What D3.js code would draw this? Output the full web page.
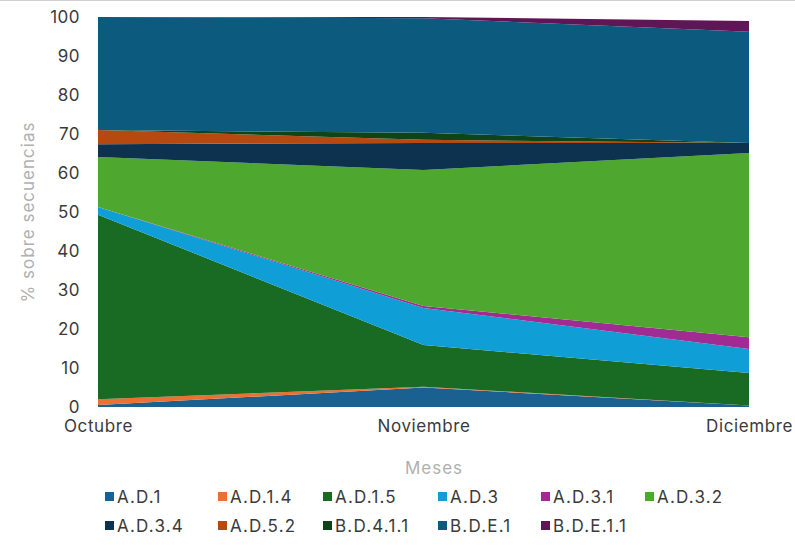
<!DOCTYPE html>
<html><head><meta charset="utf-8">
<script src="https://cdn.jsdelivr.net/npm/d3@7"></script>
<style>body{margin:0;background:#fff;} text{font-family:Inter,"Open Sans",sans-serif;}</style>
</head><body><svg id="c" width="795" height="545"></svg>
<script>
const months = ["Octubre","Noviembre","Diciembre"];
const seriesNames = ["A.D.1","A.D.1.4","A.D.1.5","A.D.3","A.D.3.1","A.D.3.2","A.D.3.4","A.D.5.2","B.D.4.1.1","B.D.E.1","B.D.E.1.1"];
const AD1     = [0.5, 5.0, 0.4];
const AD14    = [1.5, 0.2, 0.0];
const AD15    = [47.3, 10.7, 8.3];
const AD3     = [2.0, 9.5, 6.2];
const AD31    = [0.0, 0.5, 3.0];
const AD32    = [12.8, 34.9, 47.2];
const AD34    = [3.3, 6.9, 2.6];
const AD52    = [3.6, 0.8, 0.0];
const BD411   = [0.0, 1.8, 0.0];
const BDE1    = [29.0, 29.4, 28.5];
const BDE11   = [0.0, 0.3, 2.8];
const colors = ["#1a6090","#e97132","#196b24","#0f9ed5","#a02b93","#4ea72e","#0d3250","#b5490f","#0f4418","#0c5b7e","#5e1656"];
const yTicks = [0,10,20,30,40,50,60,70,80,90,100];

const valueArrays = [AD1,AD14,AD15,AD3,AD31,AD32,AD34,AD52,BD411,BDE1,BDE11];
const rows = months.map((m,i)=>{const o={month:m}; seriesNames.forEach((s,j)=>o[s]=valueArrays[j][i]); return o;});

const svg = d3.select("#c");
const L=98, R=749, T=17, B=407;
const x = d3.scalePoint().domain(months).range([L,R]);
const y = d3.scaleLinear().domain([0,100]).range([B,T]);

svg.append("line").attr("x1",0).attr("x2",795).attr("y1",0.5).attr("y2",0.5).attr("stroke","#d0d0d0");

const stack = d3.stack().keys(seriesNames)(rows);
const area = d3.area().x(d=>x(d.data.month)).y0(d=>y(d[0])).y1(d=>y(d[1]));
svg.append("g").selectAll("path").data(stack).join("path")
  .attr("d",area).attr("fill",(d,i)=>colors[i]);

const tf = "Inter,'Open Sans',sans-serif";
// y axis labels
const ya = svg.append("g").attr("transform",`translate(${L},0)`)
  .call(d3.axisLeft(y).tickValues(yTicks).tickSize(0).tickPadding(18));
ya.select(".domain").remove();
ya.selectAll("text").attr("font-size",17).attr("fill","#3a3a3a").attr("font-family",tf).attr("letter-spacing",0.5);

// x axis labels
const xa = svg.append("g").attr("transform",`translate(0,${B})`)
  .call(d3.axisBottom(x).tickSize(0).tickPadding(13));
xa.select(".domain").remove();
xa.selectAll("text").attr("font-size",17).attr("fill","#3a3a3a").attr("font-family",tf).attr("letter-spacing",0.6);

svg.append("text").attr("transform","translate(34,212) rotate(-90)").attr("text-anchor","middle")
  .attr("font-size",17).attr("letter-spacing",1).attr("fill","#b0b0b0").text("% sobre secuencias");
svg.append("text").attr("x",434).attr("y",474).attr("text-anchor","middle")
  .attr("font-size",17).attr("letter-spacing",1).attr("fill","#b0b0b0").text("Meses");

// legend
const colX = [105,218,323,438,541,645];
const leg = svg.append("g");
seriesNames.forEach((s,i)=>{
  const r = i<6?0:1, c = i<6?i:i-6;
  const gx = colX[c], gy = r===0?497:526;
  leg.append("rect").attr("x",gx).attr("y",gy-5).attr("width",9).attr("height",9).attr("fill",colors[i]);
  leg.append("text").attr("x",gx+12).attr("y",gy+6).attr("font-size",17).attr("letter-spacing",1.2).attr("fill","#3a3a3a").text(s);
});
</script></body></html>
